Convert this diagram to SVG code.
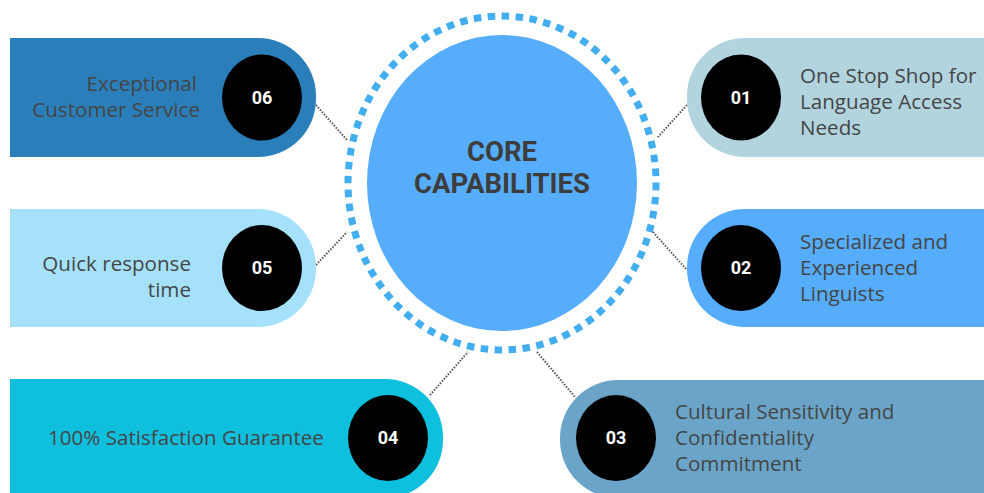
<svg xmlns="http://www.w3.org/2000/svg" width="984" height="493" viewBox="0 0 984 493">
<style>
.lbl{font-family:"Open Sans","Liberation Sans",sans-serif;font-size:20.6px;fill:#454545}
.num{font-family:Roboto,"Liberation Sans",sans-serif;font-size:18px;font-weight:bold;fill:#ffffff;text-anchor:middle}
.dot{fill:#000000}
.conn{stroke:#555555;stroke-width:2;stroke-dasharray:1.5 1.5;fill:none}
.title{font-family:Roboto,"Liberation Sans",sans-serif;font-size:27.5px;font-weight:bold;fill:#3d3d3d;text-anchor:middle}
</style>
<rect width="984" height="493" fill="#ffffff"/>
<g id="connectors">
<line class="conn" x1="316" y1="105" x2="347" y2="140"/>
<line class="conn" x1="316" y1="265" x2="347" y2="232"/>
<line class="conn" x1="430" y1="395" x2="468" y2="352"/>
<line class="conn" x1="537" y1="352" x2="575" y2="397"/>
<line class="conn" x1="687" y1="105" x2="657" y2="138"/>
<line class="conn" x1="653" y1="232" x2="687" y2="270"/>
</g>
<g id="center">
<ellipse cx="502" cy="183" rx="154" ry="167" fill="none" stroke="#42aef0" stroke-width="7" stroke-dasharray="7.5 6.5"/>
<ellipse cx="502" cy="183" rx="135" ry="148" fill="#55adfb"/>
<text class="title" x="502" y="161">CORE</text>
<text class="title" x="502" y="193">CAPABILITIES</text>
</g>
<g id="node06">
<path d="M10,38 H258 A58,58 0 0 1 316,96 V99 A58,58 0 0 1 258,157 H10 Z" fill="#2a7fba"/>
<ellipse class="dot" cx="262" cy="97.5" rx="40" ry="43"/>
<text class="num" x="262" y="104">06</text>
<text class="lbl" x="197" y="91" text-anchor="end">Exceptional</text>
<text class="lbl" x="200" y="117" text-anchor="end">Customer Service</text>
</g>
<g id="node05">
<path d="M10,209 H258 A58,58 0 0 1 316,267 V269 A58,58 0 0 1 258,327 H10 Z" fill="#a6e1fb"/>
<ellipse class="dot" cx="262" cy="268" rx="40" ry="43"/>
<text class="num" x="262" y="274">05</text>
<text class="lbl" x="191" y="271" text-anchor="end">Quick response</text>
<text class="lbl" x="191" y="297" text-anchor="end">time</text>
</g>
<g id="node04">
<path d="M10,379 H385 A58,58 0 0 1 443,437 V440 A58,58 0 0 1 385,498 H10 Z" fill="#0fc0de"/>
<ellipse class="dot" cx="388" cy="438" rx="40" ry="43"/>
<text class="num" x="388" y="444">04</text>
<text class="lbl" x="48" y="445">100% Satisfaction Guarantee</text>
</g>
<g id="node03">
<path d="M984,380 H618 A58,58 0 0 0 560,438 V440 A58,58 0 0 0 618,498 H984 Z" fill="#6aa5c9"/>
<ellipse class="dot" cx="616" cy="438" rx="40" ry="43"/>
<text class="num" x="616" y="444">03</text>
<text class="lbl" x="675" y="419">Cultural Sensitivity and</text>
<text class="lbl" x="675" y="445">Confidentiality</text>
<text class="lbl" x="675" y="471">Commitment</text>
</g>
<g id="node01">
<path d="M984,38 H745 A58,58 0 0 0 687,96 V99 A58,58 0 0 0 745,157 H984 Z" fill="#b1d4df"/>
<ellipse class="dot" cx="741" cy="97.5" rx="40" ry="43"/>
<text class="num" x="741" y="104">01</text>
<text class="lbl" x="800" y="83">One Stop Shop for</text>
<text class="lbl" x="800" y="109">Language Access</text>
<text class="lbl" x="800" y="135">Needs</text>
</g>
<g id="node02">
<path d="M984,209 H745 A58,58 0 0 0 687,267 V269 A58,58 0 0 0 745,327 H984 Z" fill="#55adfb"/>
<ellipse class="dot" cx="741" cy="268" rx="40" ry="43"/>
<text class="num" x="741" y="274">02</text>
<text class="lbl" x="800" y="249">Specialized and</text>
<text class="lbl" x="800" y="275">Experienced</text>
<text class="lbl" x="800" y="301">Linguists</text>
</g>
</svg>
